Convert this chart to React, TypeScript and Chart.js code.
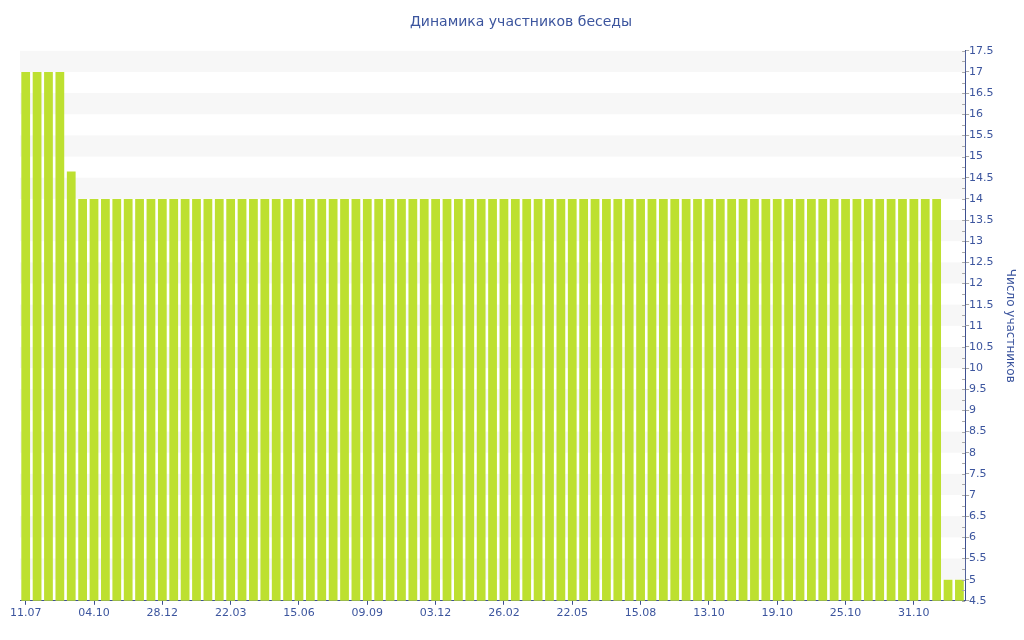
import React, { useEffect, useRef } from "react";
import { Chart, registerables } from "chart.js";

Chart.register(...registerables);

const chartTitle = "Динамика участников беседы";
const yAxisTitle = "Число участников";

const categories = [
  "11.07", "25.07", "08.08", "22.08", "05.09", "19.09",
  "04.10", "18.10", "01.11", "15.11", "29.11", "13.12",
  "28.12", "11.01", "25.01", "08.02", "22.02", "08.03",
  "22.03", "05.04", "19.04", "03.05", "17.05", "31.05",
  "15.06", "29.06", "13.07", "27.07", "10.08", "24.08",
  "09.09", "23.09", "07.10", "21.10", "04.11", "18.11",
  "03.12", "17.12", "31.12", "14.01", "28.01", "11.02",
  "26.02", "12.03", "26.03", "09.04", "23.04", "07.05",
  "22.05", "05.06", "19.06", "03.07", "17.07", "31.07",
  "15.08", "25.08", "04.09", "14.09", "24.09", "04.10",
  "13.10", "14.10", "15.10", "16.10", "17.10", "18.10",
  "19.10", "20.10", "21.10", "22.10", "23.10", "24.10",
  "25.10", "26.10", "27.10", "28.10", "29.10", "30.10",
  "31.10", "01.11", "02.11", "03.11", "04.11",
];

const memberCounts = [
  17, 17, 17, 17, 14.65, 14,
  14, 14, 14, 14, 14, 14,
  14, 14, 14, 14, 14, 14,
  14, 14, 14, 14, 14, 14,
  14, 14, 14, 14, 14, 14,
  14, 14, 14, 14, 14, 14,
  14, 14, 14, 14, 14, 14,
  14, 14, 14, 14, 14, 14,
  14, 14, 14, 14, 14, 14,
  14, 14, 14, 14, 14, 14,
  14, 14, 14, 14, 14, 14,
  14, 14, 14, 14, 14, 14,
  14, 14, 14, 14, 14, 14,
  14, 14, 14, 5, 5,
];

const yMin = 4.5;
const yMax = 17.5;
const labelEvery = 6;

const textColor = "#3c559e";
const axisColor = "#3d4f8f";
const barColor = "#bde030";
const bandColor = "#f7f7f7";
const tickGray = "#a8a8a8";
const fontFamily = "'DejaVu Sans', Verdana, sans-serif";

const isMajor = (v: number) => Math.abs((v * 2) % 1) < 1e-6;

const bandsPlugin = {
  id: "bands",
  beforeDatasetsDraw(chart: any) {
    const { ctx, chartArea } = chart;
    const y = chart.scales.y;
    ctx.save();
    ctx.fillStyle = bandColor;
    for (const t of y.ticks) {
      const v = t.value;
      if (Math.abs((v % 1) - 0.5) < 1e-6 && v - 0.5 >= yMin - 1e-6) {
        const top = y.getPixelForValue(v);
        const bottom = y.getPixelForValue(v - 0.5);
        ctx.fillRect(chartArea.left, top, chartArea.right - chartArea.left, bottom - top);
      }
    }
    ctx.restore();
  },
  afterDraw(chart: any) {
    const { ctx } = chart;
    const y = chart.scales.y;
    const x0 = y.left;
    ctx.save();
    ctx.strokeStyle = tickGray;
    ctx.lineWidth = 1;
    ctx.beginPath();
    for (const t of y.ticks) {
      const py = Math.round(y.getPixelForValue(t.value)) + 0.5;
      ctx.moveTo(x0 - 3, py);
      ctx.lineTo(x0, py);
    }
    ctx.stroke();
    ctx.restore();
  },
};

export default function App() {
  const ref = useRef<HTMLCanvasElement>(null);
  useEffect(() => {
    if (!ref.current) return;
    const chart = new Chart(ref.current, {
      type: "bar",
      data: {
        labels: categories,
        datasets: [
          {
            data: memberCounts,
            backgroundColor: barColor,
            borderWidth: 0,
            categoryPercentage: 1,
            barPercentage: 0.77,
          },
        ],
      },
      plugins: [bandsPlugin],
      options: {
        animation: false,
        responsive: false,
        layout: { padding: { left: 20, right: 2, top: 0, bottom: 18 } },
        plugins: {
          legend: { display: false },
          tooltip: { enabled: false },
          title: {
            display: true,
            text: chartTitle,
            color: textColor,
            font: { family: fontFamily, size: 14, weight: "normal" },
            padding: { top: 14, bottom: 20 },
          },
        },
        scales: {
          x: {
            grid: {
              offset: false,
              drawOnChartArea: false,
              drawTicks: true,
              tickLength: 4,
              color: (c: any) => (c.index % labelEvery === 0 ? axisColor : "rgba(0,0,0,0)"),
            },
            border: { display: true, color: axisColor, width: 1 },
            ticks: {
              autoSkip: false,
              maxRotation: 0,
              color: textColor,
              padding: 2,
              font: { family: fontFamily, size: 11 },
              callback: (_v: any, i: number) => (i % labelEvery === 0 ? categories[i] : ""),
            },
          },
          y: {
            position: "right",
            min: yMin,
            max: yMax,
            grid: {
              drawOnChartArea: false,
              drawTicks: true,
              tickLength: 4,
              color: (c: any) => (c.tick && isMajor(c.tick.value) ? tickGray : "rgba(0,0,0,0)"),
            },
            border: { display: true, color: axisColor, width: 1 },
            ticks: {
              stepSize: 0.25,
              autoSkip: false,
              color: textColor,
              padding: 0,
              font: { family: fontFamily, size: 11 },
              callback: (v: any) => (isMajor(v) ? String(v) : ""),
            },
            title: {
              display: true,
              text: yAxisTitle,
              color: textColor,
              font: { family: fontFamily, size: 12 },
              padding: { top: 5, bottom: 9 },
            },
          },
        },
      },
    });
    return () => chart.destroy();
  }, []);
  return (
    <div style={{ position: "fixed", left: 0, top: 0, width: 1024, height: 640, background: "#fff" }}>
      <canvas ref={ref} width={1024} height={640} />
    </div>
  );
}
